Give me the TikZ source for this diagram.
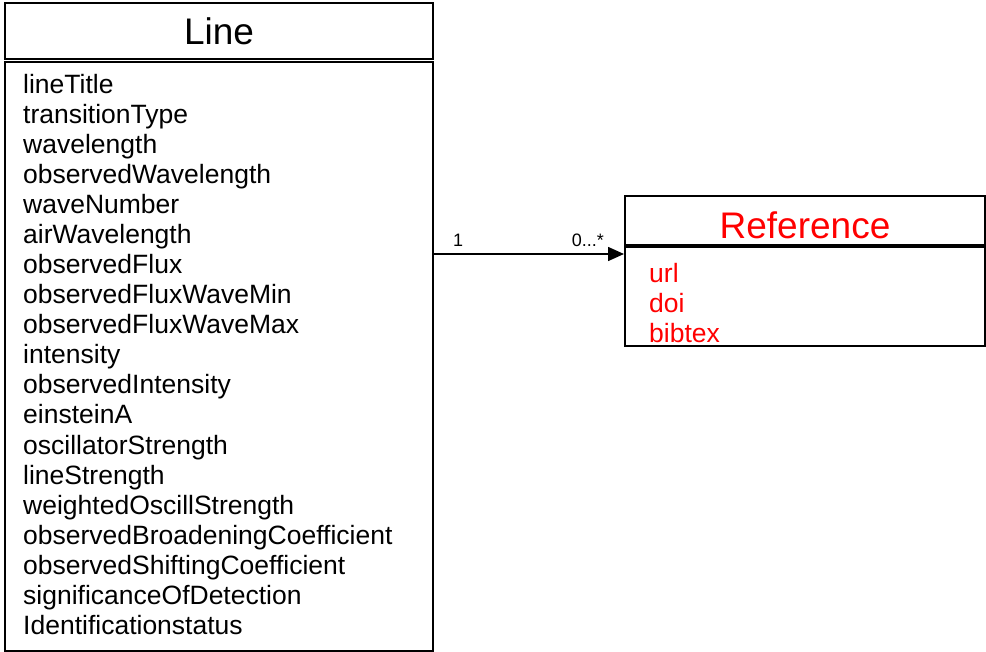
\documentclass[tikz,border=0pt]{standalone}
\usepackage{fontspec}
\setmainfont{Liberation Sans}
\usetikzlibrary{arrows.meta}

\tikzset{
  box/.style = {draw, line width=2pt, inner sep=0pt, anchor=north west},
  title/.style = {font=\fontsize{37}{40}\selectfont},
  attr/.style = {anchor=base west, inner sep=0pt, font=\fontsize{26.5}{30}\selectfont},
  mult/.style = {inner sep=0pt, font=\fontsize{18}{20}\selectfont},
  assoc/.style = {line width=1.6pt, -{Triangle[length=16pt,width=14pt]}}
}

\begin{document}
\begin{tikzpicture}[x=1pt, y=-1pt]
\useasboundingbox (0,0) rectangle (986,652);

% class Line
\node[box, title, minimum width=428pt, minimum height=56.5pt] at (4,2) (lhead) {Line};
\node[box, minimum width=428pt, minimum height=589pt] at (4,61) (lbody) {};
\foreach \a [count=\i] in {lineTitle, transitionType, wavelength,
  observedWavelength, waveNumber, airWavelength, observedFlux,
  observedFluxWaveMin, observedFluxWaveMax, intensity, observedIntensity,
  einsteinA, oscillatorStrength, lineStrength, weightedOscillStrength,
  observedBroadeningCoefficient, observedShiftingCoefficient,
  significanceOfDetection, Identificationstatus}
  \node[attr] at (23,{94+30*(\i-1)}) (l\i) {\a};

% class Reference
\node[box, minimum width=360pt, minimum height=49pt] at (624,195) (rhead) {};
\node[title, text=red, anchor=base, inner sep=0pt] at (rhead.center |- 0,238.5) (rtitle) {Reference};
\node[box, minimum width=360pt, minimum height=99pt] at (624,246) (rbody) {};
\foreach \a [count=\i] in {url, doi, bibtex}
  \node[attr, text=red] at (649,{283+30*(\i-1)}) (r\i) {\a};

% association
\coordinate (src) at (lbody.east |- 0,254);
\coordinate (dst) at (rbody.west |- src);
\draw[assoc] (src) -- (dst);
\node[mult, anchor=base west] at (453,246.5) (m1) {1};
\node[mult, anchor=base east] at (604,246.5) (m2) {0...*};
\end{tikzpicture}
\end{document}
